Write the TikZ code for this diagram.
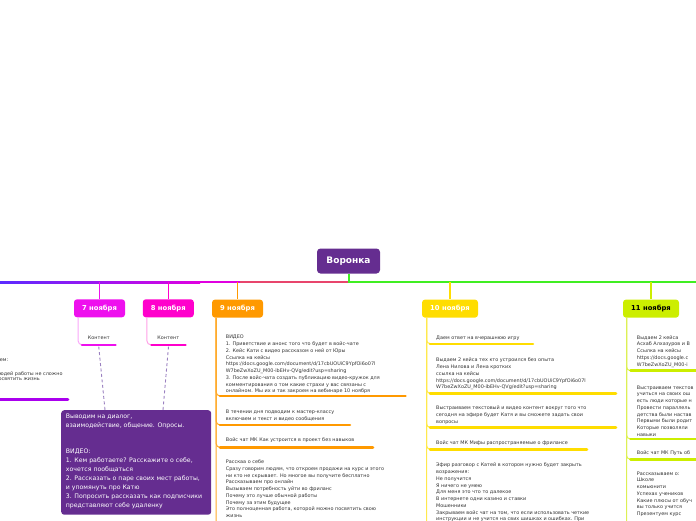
\documentclass[tikz,border=0pt]{standalone}
\usepackage{fontspec}
\setmainfont{DejaVu Sans}
\usetikzlibrary{calc}
\definecolor{rootc}{HTML}{652D90}
\definecolor{txtgray}{HTML}{333333}
\definecolor{lineL}{HTML}{5B2BFF}
\definecolor{lineM}{HTML}{E000E0}
\definecolor{lineR}{HTML}{E8456C}
\definecolor{lineG}{HTML}{40EE22}
\definecolor{c7}{HTML}{EE10EE}
\definecolor{c7l}{HTML}{F9A6F9}
\definecolor{c8}{HTML}{FF00CC}
\definecolor{c8l}{HTML}{FFA0E6}
\definecolor{c9}{HTML}{FF9900}
\definecolor{c9l}{HTML}{FFAA2A}
\definecolor{c10}{HTML}{FFDD00}
\definecolor{c10l}{HTML}{FFE94D}
\definecolor{c11}{HTML}{CCEE00}
\definecolor{c11l}{HTML}{DDF055}
\definecolor{cleft}{HTML}{AA00EE}
\definecolor{dashc}{HTML}{9A80C0}
\begin{document}
\begin{tikzpicture}[x=1pt,y=-1pt,
  datebox/.style={rounded corners=3pt, minimum width=51pt, minimum height=18pt, inner sep=0pt,
    font=\fontsize{6.8}{8}\selectfont\bfseries, text=white},
  rootbox/.style={rounded corners=3.5pt, fill=rootc, minimum width=63pt, minimum height=25pt, inner sep=0pt,
    font=\fontsize{9}{10}\selectfont\bfseries, text=white},
  txt/.style={anchor=north west, align=left, inner sep=0pt, font=\fontsize{4.9}{6.75}\selectfont, text=txtgray},
  txtr/.style={anchor=base east, inner sep=0pt, font=\fontsize{4.9}{6.75}\selectfont, text=txtgray},
  ptxt/.style={anchor=north west, align=left, inner sep=0pt, font=\fontsize{6.2}{8.9}\selectfont, text=white},
  bar/.style={line width=2.6pt, line cap=round},
  conn/.style={line width=1pt, rounded corners=4pt},
  branch/.style={line width=1.2pt},
  dashconn/.style={dashc, line width=0.9pt, dash pattern=on 3pt off 2.5pt}
]
\useasboundingbox (0,0) rectangle (696,520);
\clip (0,0) rectangle (696,520);

% main lines
\shade[left color=lineL, right color=lineM] (0,281) rectangle (200,283);
\fill[lineM] (199.5,281) rectangle (240,283);
\node[rootbox] (root) at (348.5,261) {Воронка};
\coordinate (jL) at (240,282);
\coordinate (jR) at (348.5,282);
\coordinate (jE) at (696,282);
\draw[lineR, line width=2pt] (jL) -- (jR);
\draw[lineG, line width=2pt] (root.south) -- (jR) -- (jE);

% date nodes
\node[datebox, fill=c7] (n7) at (99.5,308.3) {7 ноября};
\node[datebox, fill=c8] (n8) at (168.3,308.3) {8 ноября};
\node[datebox, fill=c9] (n9) at (237.5,308.6) {9 ноября};
\node[datebox, fill=c10, minimum width=56pt] (n10) at (450,308.6) {10 ноября};
\node[datebox, fill=c11, minimum width=56pt, text=black] (n11) at (651,308.6) {11 ноября};

\coordinate (j7) at (99.5,282);
\coordinate (j8) at (168.3,282);
\coordinate (j9) at (237.5,282);
\coordinate (j10) at (450,282);
\coordinate (j11) at (651,282);
\draw[branch, c7] (j7) -- (n7.north);
\draw[branch, c8] (j8) -- (n8.north);
\draw[branch, c9] (j9) -- (n9.north);
\draw[branch, c10] (j10) -- (n10.north);
\draw[branch, c11] (j11) -- (n11.north);

% 7 and 8 November children
\node[inner sep=0pt, font=\fontsize{4.9}{6}\selectfont, text=txtgray] (k7) at (98.8,338) {Контент};
\node[inner sep=0pt, font=\fontsize{4.9}{6}\selectfont, text=txtgray] (k8) at (168.3,338) {Контент};
\coordinate (k7a) at (82,344.8); \coordinate (k7b) at (115.5,344.8);
\coordinate (k8a) at (151.5,344.8); \coordinate (k8b) at (185.5,344.8);
\draw[conn, c7l] ($(n7.south west)+(4.3,0)$) |- (k7a);
\draw[conn, c8l] ($(n8.south west)+(4.3,0)$) |- (k8a);
\draw[bar, c7] (k7a) -- (k7b);
\draw[bar, c8] (k8a) -- (k8b);

% purple box
\node[fill=rootc, rounded corners=3pt, anchor=north west, minimum width=150pt, minimum height=104.5pt, inner sep=0pt] (pbox) at (61,410) {};
\node[ptxt] (ptext) at (65.7,413.6) {Выводим на диалог,\\взаимодействие, общение. Опросы.\\[8.9pt]\\ВИДЕО:\\1. Кем работаете? Расскажите о себе,\\хочется пообщаться\\2. Рассказать о паре своих мест работы,\\и упомянуть про Катю\\3. Попросить рассказать как подписчики\\представляют себе удаленку};
\draw[dashconn] ($(k7a)!0.5!(k7b)+(0,1.8)$) -- ($(pbox.north west)+(44,0)$);
\draw[dashconn] ($(k8a)!0.5!(k8b)+(0,1.8)$) -- ($(pbox.north west)+(102,0)$);

% left fragments (cut off by the left edge)
\node[txtr] (l1) at (8.5,361.5) {ем:};
\node[txtr] (l2) at (62.8,375.2) {людей работы не сложно};
\node[txtr] (l3) at (40,380.8) {посвятить жизнь};
\coordinate (lb0) at (-5,399.5); \coordinate (lb1) at (68,399.5);
\draw[bar, cleft] (lb0) -- (lb1);

% 9 November
\coordinate (t9) at ($(n9.south west)+(4.3,0)$);
\coordinate (t9end) at (216,522);
\draw[line width=1pt, c9l] (t9) -- (t9end);
\node[txt] (a9) at (225.7,335) {ВИДЕО\\1. Приветствие и анонс того что будет в войс-чате\\2. Кейс Кати с видео рассказом о ней от Юры\\Ссылка на кейсы\\https://docs.google.com/document/d/17cbUOUiC9YpfOi6o07l\\W7beZwXoZU\_M00-ibEHv-QVg/edit?usp=sharing\\3. После войс-чата создать публикацию видео-кружок для\\комментирования о том какие страхи у вас связаны с\\онлайном. Мы их и так закроем на вебинаре 10 ноября};
\coordinate (a9a) at (220,396); \coordinate (a9b) at (405.5,396);
\node[txt] (b9) at (225.7,409.6) {В течении дня подводим к мастер-классу\\включаем и текст и видео сообщения};
\coordinate (b9a) at (220,425); \coordinate (b9b) at (350,425);
\node[txt] (c9n) at (225.7,437.9) {Войс чат МК Как устроится в проект без навыков};
\coordinate (c9a) at (220,447.5); \coordinate (c9b) at (373,447.5);
\node[txt] (d9) at (225.7,459.6) {Расскаа о себе\\Сразу говорим людям, что откроем продажи на курс и этого\\ни кто не скрывает. Но многое вы получите бесплатно\\Рассказываем про онлайн\\Вызываем потребность уйти во фриланс\\Почему это лучше обычной работы\\Почему за этим будущее\\Это полноценная работа, которой можно посвятить свою\\жизнь};
\foreach \p in {a9,b9,c9}{
  \draw[conn, c9l] (t9) |- (\p a);
  \draw[bar, c9] (\p a) -- (\p b);
}

% 10 November
\coordinate (t10) at ($(n10.south west)+(4.7,0)$);
\coordinate (t10end) at (426.7,522);
\draw[line width=1pt, c10l] (t10) -- (t10end);
\node[txt] (a10) at (436,335.6) {Даем ответ на вчерашнюю игру};
\coordinate (a10a) at (430,343.8); \coordinate (a10b) at (533,343.8);
\node[txt] (b10) at (436,357.9) {Выдаем 2 кейса тех кто устроился без опыта\\Лена Нилова и Лена кротких\\ссылка на кейсы\\https://docs.google.com/document/d/17cbUOUiC9YpfOi6o07l\\W7beZwXoZU\_M00-ibEHv-QVg/edit?usp=sharing};
\coordinate (b10a) at (430,393.3); \coordinate (b10b) at (616,393.3);
\node[txt] (c10n) at (436,405.6) {Выстраиваем текстовый и видео контент вокруг того что\\сегодня на эфире будет Катя и вы сможете задать свои\\вопросы};
\coordinate (c10a) at (430,427.5); \coordinate (c10b) at (616,427.5);
\node[txt] (d10) at (436,440.3) {Войс чат МК Мифы распространяемые о фрилансе};
\coordinate (d10a) at (430,449.3); \coordinate (d10b) at (587,449.3);
\node[txt] (e10) at (436,462.9) {Эфир разговор с Катей в котором нужно будет закрыть\\возражения:\\Не получится\\Я ничего не умею\\Для меня это что то далекое\\В интернете одни казино и ставки\\Мошенники\\Закрываем войс чат на том, что если использовать четкие\\инструкции и не учится на свих шишках и ошибках. При};
\foreach \p in {a10,b10,c10,d10}{
  \draw[conn, c10l] (t10) |- (\p a);
  \draw[bar, c10] (\p a) -- (\p b);
}

% 11 November
\coordinate (t11) at ($(n11.south west)+(3.7,0)$);
\coordinate (t11end) at (626.7,522);
\draw[line width=1pt, c11l] (t11) -- (t11end);
\node[txt] (a11) at (636.7,335.3) {Выдаем 2 кейса\\Асхаб Алхазуров и В\\Ссылка на кейсы\\https://docs.google.c\\W7beZwXoZU\_M00-i};
\coordinate (a11a) at (630.5,370.7); \coordinate (a11b) at (700,370.7);
\node[txt] (b11) at (636.7,385.3) {Выстраиваем текстов\\учиться на своих ош\\есть люди которые н\\Провести параллель\\детства были настав\\Первыми были родит\\Которые позволяли\\навыки};
\coordinate (b11a) at (630.5,439); \coordinate (b11b) at (700,439);
\node[txt] (c11n) at (636.7,450.3) {Войс чат МК Путь об};
\coordinate (c11a) at (630.5,459.3); \coordinate (c11b) at (700,459.3);
\node[txt] (d11) at (636.7,471.3) {Рассказываем о:\\Школе\\комьюнити\\Успехах учеников\\Какие плюсы от обуч\\вы только учится\\Презентуем курс};
\foreach \p in {a11,b11,c11}{
  \draw[conn, c11l] (t11) |- (\p a);
  \draw[bar, c11] (\p a) -- (\p b);
}
\end{tikzpicture}
\end{document}
